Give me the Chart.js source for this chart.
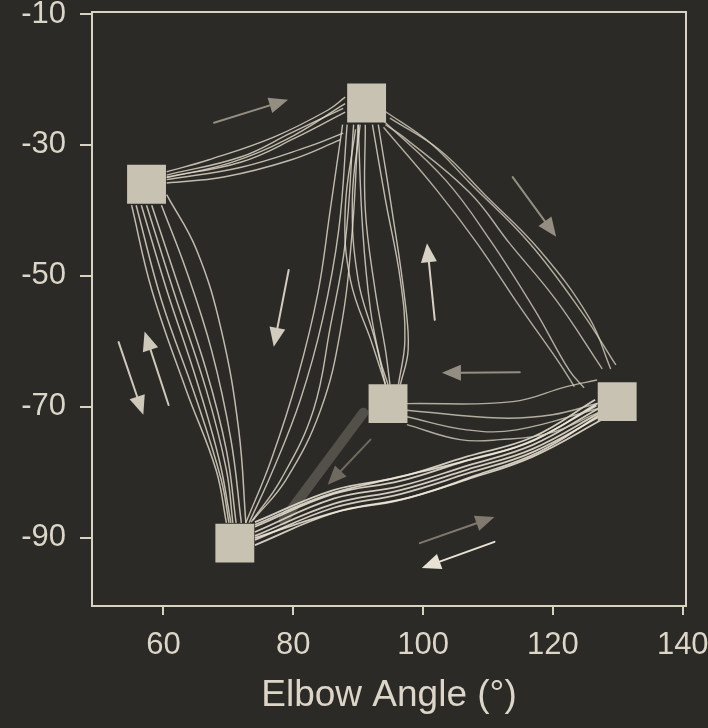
<!DOCTYPE html>
<html>
<head>
<meta charset="utf-8">
<script src="https://cdn.jsdelivr.net/npm/chart.js@4.4.1/dist/chart.umd.min.js"></script>
<style>
  body { margin: 0; background: #2c2a26; }
  canvas { display: block; }
</style>
</head>
<body>
<canvas id="chart" width="708" height="728"></canvas>
<script>
// axis ticks
const xTicks = [60, 80, 100, 120, 140];
const yTicks = [-10, -30, -50, -70, -90];

// target squares (elbow angle, shoulder angle)
const targets = [[91.3, -23.6], [57.4, -36.0], [94.6, -69.5], [129.9, -69.2], [71.0, -90.8]];

// movement traces, grouped by start/end target
const leftToTop = [
    [[60.5, -34.1], [66.9, -32.3], [77.0, -28.8], [85.3, -24.7], [88.0, -22.7]],
    [[60.5, -34.6], [72.0, -31.8], [79.6, -28.2], [87.7, -24.4]],
    [[60.5, -34.9], [72.0, -32.6], [80.4, -28.9], [88.0, -25.0]],
    [[60.5, -35.3], [72.0, -33.4], [82.2, -30.3], [87.7, -28.2]],
    [[60.5, -35.8], [69.3, -34.9], [79.6, -32.3], [87.3, -29.2]],
    [[60.5, -35.0], [70.4, -32.7], [78.9, -29.2], [88.0, -23.7]]
];
const leftToBottom = [
    [[55.1, -39.2], [58.2, -52.1], [63.5, -67.4], [68.1, -79.6], [69.7, -87.7]],
    [[56.6, -39.2], [60.5, -52.1], [65.1, -65.9], [68.6, -78.1], [70.4, -87.7]],
    [[58.2, -39.2], [62.0, -50.6], [66.6, -64.4], [69.7, -76.6], [71.2, -87.7]],
    [[59.7, -39.2], [63.5, -49.1], [67.4, -61.3], [70.4, -75.0], [72.0, -87.7]],
    [[60.5, -37.6], [65.1, -46.0], [68.9, -58.2], [71.6, -73.5], [72.7, -87.7]],
    [[55.8, -39.2], [59.7, -53.7], [65.1, -68.9], [68.9, -81.1], [70.1, -87.7]],
    [[57.4, -39.2], [61.5, -52.1], [66.6, -67.4], [69.7, -79.6], [70.7, -87.7]]
];
const topToBottom = [
    [[87.6, -26.9], [85.7, -39.9], [83.8, -52.6], [80.7, -65.4], [76.6, -78.1], [72.7, -87.7]],
    [[89.3, -26.9], [88.0, -45.0], [85.7, -57.8], [83.1, -70.5], [78.1, -81.1], [73.5, -87.6]],
    [[90.0, -26.9], [89.1, -43.0], [87.3, -58.2], [84.2, -70.5], [78.9, -81.1], [73.8, -87.3]],
    [[88.3, -26.9], [87.0, -43.0], [84.5, -56.7], [81.1, -68.9], [76.9, -79.6], [73.2, -87.7]]
];
const topToMiddle = [
    [[90.3, -26.9], [89.1, -38.4], [90.0, -50.6], [92.6, -59.8], [94.2, -66.6]],
    [[91.1, -26.9], [91.1, -39.9], [92.6, -52.1], [94.2, -61.3], [94.9, -66.6]],
    [[92.2, -26.9], [94.2, -38.4], [96.5, -50.6], [97.2, -59.8], [96.2, -66.6]],
    [[93.1, -26.9], [95.2, -39.9], [97.2, -53.7], [97.7, -61.3], [96.5, -66.6]],
    [[90.0, -26.9], [90.7, -43.0], [91.9, -55.2], [93.4, -62.8], [94.6, -66.6]],
    [[89.6, -27.6], [88.0, -39.9], [88.8, -50.6], [92.2, -60.5], [94.2, -66.6]]
];
const topToRight = [
    [[93.9, -24.7], [101.1, -29.7], [107.2, -35.8], [116.4, -45.0], [124.5, -55.6], [129.7, -63.6]],
    [[94.9, -25.9], [102.6, -30.8], [109.5, -37.6], [117.9, -46.0], [125.6, -56.4], [128.9, -64.2]],
    [[94.2, -26.9], [97.0, -28.8], [107.2, -37.3], [113.3, -45.0], [120.5, -53.7], [127.6, -64.2]],
    [[93.9, -27.3], [102.1, -36.9], [108.3, -45.0], [114.9, -54.7], [121.0, -63.3], [123.3, -66.9]],
    [[93.9, -26.3], [103.4, -35.3], [110.3, -44.5], [117.2, -55.2], [122.5, -64.4], [124.8, -67.1]]
];
const rightToMiddle = [
    [[97.5, -69.5], [113.8, -69.2], [122.1, -66.9], [126.8, -65.9]],
    [[97.5, -70.5], [111.8, -71.7], [119.9, -71.2], [127.1, -69.4]],
    [[97.5, -71.5], [106.7, -73.5], [114.4, -73.5], [127.1, -70.2]],
    [[97.5, -72.7], [105.7, -75.0], [111.8, -75.0], [119.5, -74.0], [127.1, -70.8]]
];
const bottomToRight = [
    [[74.1, -87.6], [86.2, -82.7], [96.5, -80.7], [106.7, -77.6], [116.9, -74.6], [126.5, -68.9]],
    [[74.1, -88.3], [86.2, -83.3], [96.5, -81.3], [106.7, -78.2], [116.9, -75.2], [126.8, -69.5]],
    [[74.1, -89.1], [86.2, -84.0], [96.5, -82.1], [106.7, -79.0], [116.9, -75.8], [127.1, -70.2]],
    [[74.1, -89.7], [86.2, -84.8], [96.5, -82.7], [106.7, -79.6], [116.9, -76.4], [127.4, -70.8]],
    [[74.1, -90.3], [86.2, -85.4], [96.5, -83.3], [106.7, -80.2], [116.9, -76.9], [127.7, -71.2]],
    [[74.1, -91.1], [86.2, -86.2], [96.5, -84.2], [106.7, -81.1], [116.9, -77.6], [128.0, -71.7]],
    [[74.1, -88.0], [85.0, -83.5], [95.0, -81.0], [105.5, -78.5], [116.0, -75.5], [126.7, -69.8]],
    [[74.1, -90.0], [87.5, -85.8], [98.0, -83.8], [108.0, -80.5], [118.0, -76.8], [127.5, -71.0]]
];

// direction arrows: tail and tip
const arrowTails = [[67.8, -26.6], [113.8, -34.9], [101.8, -56.7], [79.3, -49.1], [114.9, -64.7],
    [53.1, -60.1], [60.8, -69.7], [99.5, -90.8], [111.0, -90.6], [91.9, -75.0]];
const arrowTips = [[79.2, -23.1], [120.5, -44.0], [100.6, -45.0], [77.0, -60.8], [102.9, -64.8],
    [56.9, -71.2], [57.1, -58.5], [111.0, -86.8], [99.8, -94.6], [85.3, -81.9]];
// broad shaded stroke from the middle target to the bottom one
const bandFrom = [90.8, -70.9];
const bandTo = [78.5, -87.3];

const arrowShades = ['#948e82', '#948e82', '#d8d2c4', '#d2ccbe', '#948e82',
    '#cfc9bb', '#cfc9bb', '#7f796e', '#e8e2d4', '#6f6a60'];

const axisColor = '#d8d2c3';
const textColor = '#dcd6c8';
const font = 'Liberation Sans, Arial, Helvetica, sans-serif';

function traces(paths, color, width) {
    return paths.map(p => ({
        data: p.map(v => ({x: v[0], y: v[1]})),
        showLine: true,
        pointRadius: 0,
        borderColor: color,
        borderWidth: width,
        tension: 0.4
    }));
}

const thin = 'rgba(226,220,204,0.82)';
const datasets = [{
    data: targets.map(v => ({x: v[0], y: v[1]})),
    pointStyle: 'rect',
    pointRadius: 27.5,
    pointBackgroundColor: '#c8c2b3',
    pointBorderWidth: 0,
    showLine: false
}].concat(
    traces(leftToTop, thin, 1.4),
    traces(leftToBottom, thin, 1.5),
    traces(topToBottom, thin, 1.4),
    traces(topToMiddle, thin, 1.4),
    traces(topToRight, 'rgba(212,206,190,0.8)', 1.4),
    traces(rightToMiddle, 'rgba(212,206,190,0.8)', 1.4),
    traces(bottomToRight, 'rgba(238,233,218,0.85)', 1.8)
);

const arrowPlugin = {
    id: 'arrows',
    beforeDatasetsDraw(chart) {
        const {ctx, scales: {x, y}} = chart;
        ctx.save();
        ctx.lineCap = 'round';
        ctx.strokeStyle = 'rgba(100,96,88,0.7)';
        ctx.lineWidth = 10;
        ctx.beginPath();
        ctx.moveTo(x.getPixelForValue(bandFrom[0]), y.getPixelForValue(bandFrom[1]));
        ctx.lineTo(x.getPixelForValue(bandTo[0]), y.getPixelForValue(bandTo[1]));
        ctx.stroke();

        arrowTails.forEach((t, i) => {
            const x1 = x.getPixelForValue(t[0]), y1 = y.getPixelForValue(t[1]);
            const x2 = x.getPixelForValue(arrowTips[i][0]), y2 = y.getPixelForValue(arrowTips[i][1]);
            const a = Math.atan2(y2 - y1, x2 - x1);
            const len = 19, half = 8;
            const bx = x2 - len * Math.cos(a), by = y2 - len * Math.sin(a);
            ctx.strokeStyle = arrowShades[i];
            ctx.fillStyle = arrowShades[i];
            ctx.lineWidth = 2;
            ctx.beginPath();
            ctx.moveTo(x1, y1);
            ctx.lineTo(bx, by);
            ctx.stroke();
            ctx.beginPath();
            ctx.moveTo(x2, y2);
            ctx.lineTo(bx + half * Math.sin(a), by - half * Math.cos(a));
            ctx.lineTo(bx - half * Math.sin(a), by + half * Math.cos(a));
            ctx.closePath();
            ctx.fill();
        });
        ctx.restore();
    }
};

new Chart(document.getElementById('chart').getContext('2d'), {
    type: 'scatter',
    data: {datasets: datasets},
    options: {
        responsive: false,
        animation: false,
        layout: {autoPadding: false, padding: {left: 4, top: 12, right: 22, bottom: 0}},
        plugins: {legend: {display: false}, tooltip: {enabled: false}},
        scales: {
            x: {
                type: 'linear',
                position: 'bottom',
                min: 49,
                max: 140.5,
                afterBuildTicks: s => { s.ticks = xTicks.map(v => ({value: v})); },
                afterFit: s => { s.height = 122; s.paddingLeft = 0; s.paddingRight = 0; },
                grid: {display: true, drawOnChartArea: false, tickLength: 9, color: axisColor, lineWidth: 2},
                border: {display: true, color: axisColor, width: 2},
                ticks: {color: textColor, font: {family: font, size: 31}, padding: 12, maxRotation: 0},
                title: {display: true, text: 'Elbow Angle (°)', color: textColor,
                    font: {family: font, size: 37}, padding: {top: 0, bottom: 10}}
            },
            y: {
                type: 'linear',
                position: 'left',
                min: -100.4,
                max: -9.7,
                afterBuildTicks: s => { s.ticks = yTicks.map(v => ({value: v})); },
                afterFit: s => { s.width = 88; s.paddingTop = 0; s.paddingBottom = 0; },
                grid: {display: true, drawOnChartArea: false, tickLength: 12, color: axisColor, lineWidth: 2},
                border: {display: true, color: axisColor, width: 2},
                ticks: {color: textColor, font: {family: font, size: 31}, padding: 14}
            },
            x2: {
                type: 'linear',
                position: 'top',
                min: 49,
                max: 140.5,
                afterFit: s => { s.height = 0; s.paddingLeft = 0; s.paddingRight = 0; },
                grid: {display: false},
                border: {display: true, color: axisColor, width: 2},
                ticks: {display: false}
            },
            y2: {
                type: 'linear',
                position: 'right',
                min: -100.4,
                max: -9.7,
                afterFit: s => { s.width = 0; s.paddingTop = 0; s.paddingBottom = 0; },
                grid: {display: false},
                border: {display: true, color: axisColor, width: 2},
                ticks: {display: false}
            }
        }
    },
    plugins: [arrowPlugin]
});
</script>
</body>
</html>
